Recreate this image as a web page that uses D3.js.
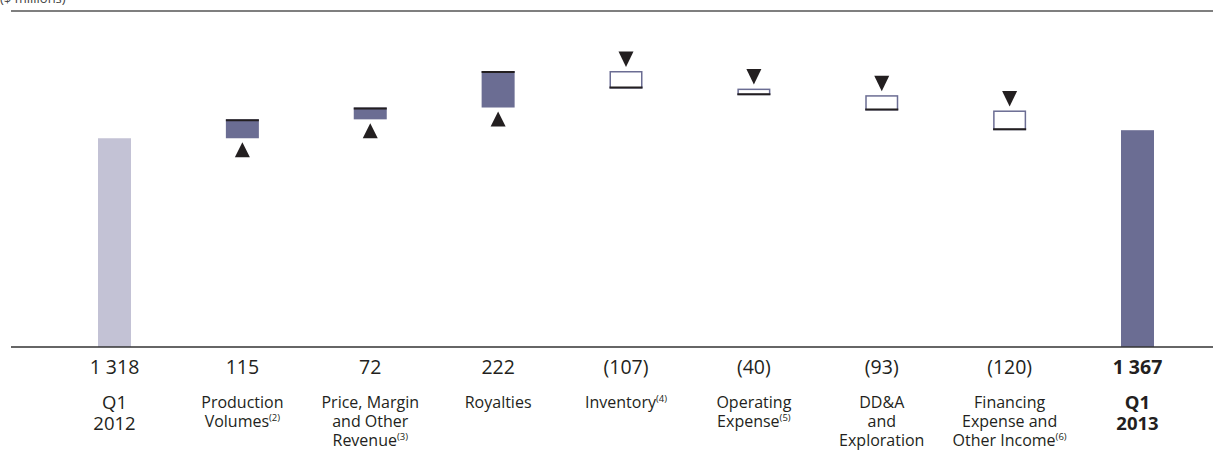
<!DOCTYPE html>
<html>
<head>
<meta charset="utf-8">
<script src="https://cdn.jsdelivr.net/npm/d3@7"></script>
<style>
  body { margin: 0; background: #fff; }
  svg { display: block; font-family: "Open Sans", "Noto Sans", sans-serif; }
</style>
</head>
<body>
<svg id="chart" width="1213" height="459"></svg>
<script>
// DATA ---------------------------------------------------------------------
const categories = ["Q1 2012", "Production Volumes", "Price, Margin and Other Revenue",
  "Royalties", "Inventory", "Operating Expense", "DD&A and Exploration",
  "Financing Expense and Other Income", "Q1 2013"];
const values = [1318, 115, 72, 222, -107, -40, -93, -120, 1367];
const valueLabels = ["1 318", "115", "72", "222", "(107)", "(40)", "(93)", "(120)", "1 367"];
const isTotal = [true, false, false, false, false, false, false, false, true];
const labelLines = [
  ["Q1", "2012"],
  ["Production", "Volumes"],
  ["Price, Margin", "and Other", "Revenue"],
  ["Royalties"],
  ["Inventory"],
  ["Operating", "Expense"],
  ["DD&A", "and", "Exploration"],
  ["Financing", "Expense and", "Other Income"],
  ["Q1", "2013"]
];
const notes = ["", "(2)", "(3)", "", "(4)", "(5)", "", "(6)", ""];
const unitLabel = "($ millions)";

// running totals for the waterfall
let running = 0;
const rows = categories.map((c, i) => {
  let start, end;
  if (isTotal[i]) { start = 0; end = values[i]; running = values[i]; }
  else { start = running; end = running + values[i]; running = end; }
  return { cat: c, i, start, end, value: values[i], total: isTotal[i] };
});
const maxTop = d3.max(rows, d => Math.max(d.start, d.end));

// LAYOUT -------------------------------------------------------------------
const svg = d3.select("#chart");
const baseY = 347;
const barW = 33;
const ink = "#231f20";
const dark = "#6b6d93";
const light = "#c3c2d5";

const x = d3.scalePoint().domain(categories).range([114.5, 1137.5]);
const y = d3.scaleLinear().domain([0, maxTop]).range([355, 71]);

// header rule + unit label (mostly cut off at the top)
svg.append("text").attr("x", 0).attr("y", 3).attr("font-size", 13).attr("fill", "#444").text(unitLabel);
svg.append("line").attr("x1", 11).attr("x2", 1213).attr("y1", 11).attr("y2", 11)
  .attr("stroke", "#555").attr("stroke-width", 1.5);

const g = svg.append("g");

// total bars
g.selectAll(".total").data(rows.filter(d => d.total)).enter().append("rect")
  .attr("x", d => x(d.cat) - barW / 2)
  .attr("y", d => y(d.end))
  .attr("width", barW)
  .attr("height", d => baseY - y(d.end))
  .attr("fill", d => d.i === 0 ? light : dark);

// positive steps
const pos = rows.filter(d => !d.total && d.value > 0);
g.selectAll(".pos").data(pos).enter().append("rect")
  .attr("x", d => x(d.cat) - barW / 2)
  .attr("y", d => y(d.end))
  .attr("width", barW)
  .attr("height", d => y(d.start) - y(d.end))
  .attr("fill", dark);
g.selectAll(".posTop").data(pos).enter().append("line")
  .attr("x1", d => x(d.cat) - barW / 2).attr("x2", d => x(d.cat) + barW / 2)
  .attr("y1", d => y(d.end) + 1).attr("y2", d => y(d.end) + 1)
  .attr("stroke", ink).attr("stroke-width", 2);
g.selectAll(".up").data(pos).enter().append("path")
  .attr("d", d => {
    const cx = x(d.cat), t = y(d.start) + 4;
    return `M${cx - 7.5},${t + 15}L${cx + 7.5},${t + 15}L${cx},${t}Z`;
  })
  .attr("fill", ink);

// negative steps
const neg = rows.filter(d => !d.total && d.value < 0);
g.selectAll(".neg").data(neg).enter().append("rect")
  .attr("x", d => x(d.cat) - barW / 2 + 0.75)
  .attr("y", d => y(d.start) + 0.75)
  .attr("width", barW - 1.5)
  .attr("height", d => y(d.end) - y(d.start) - 1.5)
  .attr("fill", "#fff").attr("stroke", dark).attr("stroke-width", 1.5);
g.selectAll(".negBot").data(neg).enter().append("line")
  .attr("x1", d => x(d.cat) - barW / 2).attr("x2", d => x(d.cat) + barW / 2)
  .attr("y1", d => y(d.end) - 1).attr("y2", d => y(d.end) - 1)
  .attr("stroke", ink).attr("stroke-width", 2);
g.selectAll(".down").data(neg).enter().append("path")
  .attr("d", d => {
    const cx = x(d.cat), b = y(d.start) - 4;
    return `M${cx - 7.5},${b - 15.5}L${cx + 7.5},${b - 15.5}L${cx},${b}Z`;
  })
  .attr("fill", ink);

// x axis line
svg.append("line").attr("x1", 11).attr("x2", 1213).attr("y1", baseY).attr("y2", baseY)
  .attr("stroke", "#333").attr("stroke-width", 1.5);

// value labels
svg.selectAll(".val").data(rows).enter().append("text")
  .attr("x", d => x(d.cat)).attr("y", 374)
  .attr("text-anchor", "middle")
  .attr("font-size", 19.5)
  .attr("font-weight", d => d.i === rows.length - 1 ? 700 : 400)
  .attr("fill", ink)
  .text((d, i) => valueLabels[i]);

// category labels
rows.forEach((d, i) => {
  const t = svg.append("text")
    .attr("text-anchor", "middle")
    .attr("font-size", d.total ? 18.5 : 16)
    .attr("font-weight", i === rows.length - 1 ? 700 : 400)
    .attr("fill", ink);
  labelLines[i].forEach((line, j) => {
    const ts = t.append("tspan").attr("x", x(d.cat))
      .attr("y", (d.total ? 409 : 408) + j * (d.total ? 21 : 19)).text(line);
    if (j === labelLines[i].length - 1 && notes[i]) {
      // keep centring on the whole line including the note
      t.append("tspan").attr("font-size", 9.5).attr("dy", -6).text(notes[i]);
    }
  });
});
</script>
</body>
</html>
